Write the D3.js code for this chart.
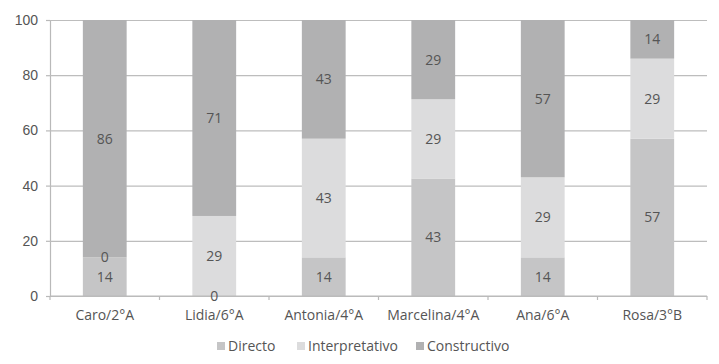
<!DOCTYPE html>
<html>
<head>
<meta charset="utf-8">
<script src="https://cdn.jsdelivr.net/npm/d3@7"></script>
<style>
  body { margin: 0; background: #fff; }
  svg { display: block; font-family: "Open Sans", "Noto Sans", sans-serif; }
</style>
</head>
<body>
<div id="chart"></div>
<script>
// Daten
const categories = ["Caro/2°A", "Lidia/6°A", "Antonia/4°A", "Marcelina/4°A", "Ana/6°A", "Rosa/3°B"];
const seriesNames = ["Directo", "Interpretativo", "Constructivo"];
const directo = [14, 0, 14, 43, 14, 57];
const interpretativo = [0, 29, 43, 29, 29, 29];
const constructivo = [86, 71, 43, 29, 57, 14];
const yTicks = [0, 20, 40, 60, 80, 100];
const colors = ["#c5c5c6", "#dcdcdd", "#b1b1b2"];

const width = 719;
const height = 364;
const marginTop = 20;
const marginRight = 12;
const marginBottom = 68;
const marginLeft = 50;

const rows = categories.map((c, i) => ({
  cat: c,
  Directo: directo[i],
  Interpretativo: interpretativo[i],
  Constructivo: constructivo[i]
}));

// Stapel auf 100 % normieren
const stacked = d3.stack()
  .keys(seriesNames)
  .offset(d3.stackOffsetExpand)(rows);

const x = d3.scaleBand()
  .domain(categories)
  .range([marginLeft, width - marginRight])
  .paddingInner(0.6)
  .paddingOuter(0.3);

const y = d3.scaleLinear()
  .domain([0, 100])
  .range([height - marginBottom, marginTop]);

const color = d3.scaleOrdinal().domain(seriesNames).range(colors);

const svg = d3.select("#chart").append("svg")
  .attr("width", width)
  .attr("height", height)
  .attr("viewBox", [0, 0, width, height]);

// Gitterlinien
svg.append("g")
  .attr("transform", `translate(${marginLeft},0)`)
  .call(d3.axisLeft(y).tickValues(yTicks).tickSize(4).tickPadding(8))
  .call(g => g.select(".domain").attr("stroke", "#b9b9b9").attr("stroke-width", 1.2))
  .call(g => g.selectAll(".tick line").attr("stroke", "#b9b9b9").attr("stroke-width", 1.2))
  .call(g => g.selectAll(".tick").append("line")
    .attr("x2", width - marginRight - marginLeft)
    .attr("stroke", "#bdbdbd")
    .attr("stroke-width", 1.2))
  .call(g => g.selectAll(".tick text")
    .attr("fill", "#555")
    .attr("font-size", 14));

// Balken
svg.append("g")
  .selectAll("g")
  .data(stacked)
  .join("g")
  .attr("fill", d => color(d.key))
  .selectAll("rect")
  .data(d => d)
  .join("rect")
  .attr("x", d => x(d.data.cat))
  .attr("y", d => y(d[1] * 100))
  .attr("height", d => y(d[0] * 100) - y(d[1] * 100))
  .attr("width", x.bandwidth());

// X-Achse mit Trennstrichen zwischen den Kategorien
const xAxis = svg.append("g")
  .attr("transform", `translate(0,${height - marginBottom})`);

xAxis.append("line")
  .attr("x1", marginLeft)
  .attr("x2", width - marginRight)
  .attr("stroke", "#b9b9b9")
  .attr("stroke-width", 1.2);

const bandW = (width - marginRight - marginLeft) / categories.length;
xAxis.selectAll(".sep")
  .data(d3.range(categories.length + 1))
  .join("line")
  .attr("class", "sep")
  .attr("x1", i => marginLeft + i * bandW)
  .attr("x2", i => marginLeft + i * bandW)
  .attr("y2", 4)
  .attr("stroke", "#b9b9b9")
  .attr("stroke-width", 1.2);

xAxis.selectAll(".lab")
  .data(categories)
  .join("text")
  .attr("class", "lab")
  .attr("x", d => x(d) + x.bandwidth() / 2)
  .attr("y", 19)
  .attr("dy", "0.35em")
  .attr("text-anchor", "middle")
  .attr("fill", "#555")
  .attr("font-size", 14)
  .text(d => d);

// Werte (über allen Balken)
const labels = stacked.flatMap(s => s.map(v => ({ v, key: s.key })));
svg.append("g")
  .selectAll("text")
  .data(labels)
  .join("text")
  .attr("x", d => x(d.v.data.cat) + x.bandwidth() / 2)
  .attr("y", d => y((d.v[0] + d.v[1]) / 2 * 100))
  .attr("dy", "0.35em")
  .attr("text-anchor", "middle")
  .attr("fill", "#555")
  .attr("font-size", 14)
  .text(d => d.v.data[d.key]);

// Legende
const legendX = [217, 297, 416];
const legend = svg.append("g")
  .selectAll("g")
  .data(seriesNames)
  .join("g")
  .attr("transform", (d, i) => `translate(${legendX[i]},346)`);

legend.append("rect")
  .attr("y", -4)
  .attr("width", 8)
  .attr("height", 8)
  .attr("fill", d => color(d));

legend.append("text")
  .attr("x", 11)
  .attr("dy", "0.35em")
  .attr("fill", "#555")
  .attr("font-size", 14)
  .text(d => d);
</script>
</body>
</html>
